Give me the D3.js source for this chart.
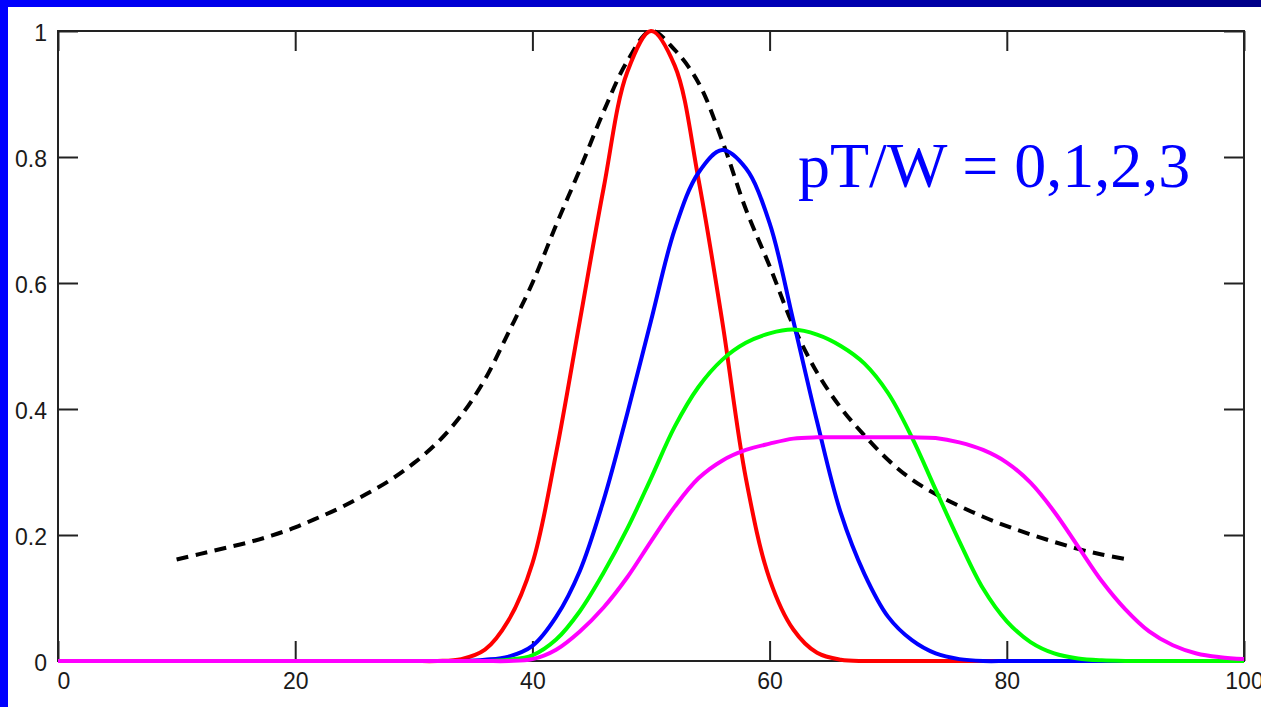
<!DOCTYPE html>
<html>
<head>
<meta charset="utf-8">
<script src="https://cdn.jsdelivr.net/npm/d3@7"></script>
<style>
  body { margin: 0; background: #fff; overflow: hidden; }
</style>
</head>
<body>
<script>
const width = 1261, height = 707

// sample positions (x) for the four pulse curves and the dashed envelope
const xGrid = d3.range(0, 101, 2)
const xDashed = d3.range(10, 91, 2)

const red = [0, 0, 0, 0, 0, 0, 0, 0, 0, 0, 0, 0, 0, 0, 0, 0, 0,
    0.003, 0.018, 0.065, 0.155, 0.33, 0.54, 0.75, 0.935, 1.0, 0.945, 0.765, 0.54, 0.29, 0.13, 0.05, 0.013, 0.002,
    0, 0, 0, 0, 0, 0, 0, 0, 0, 0, 0, 0, 0, 0, 0, 0, 0]
const blue = [0, 0, 0, 0, 0, 0, 0, 0, 0, 0, 0, 0, 0, 0, 0, 0, 0, 0,
    0.002, 0.007, 0.024, 0.07, 0.143, 0.255, 0.393, 0.54, 0.685, 0.775, 0.811, 0.782, 0.695, 0.54, 0.38, 0.235,
    0.138, 0.07, 0.033, 0.012, 0.003,
    0, 0, 0, 0, 0, 0, 0, 0, 0, 0, 0, 0]
const green = [0, 0, 0, 0, 0, 0, 0, 0, 0, 0, 0, 0, 0, 0, 0, 0, 0, 0, 0,
    0.002, 0.009, 0.034, 0.079, 0.14, 0.21, 0.29, 0.372, 0.435, 0.478, 0.505, 0.52, 0.526, 0.518, 0.5, 0.472,
    0.425, 0.355, 0.272, 0.19, 0.115, 0.063, 0.03, 0.012, 0.004, 0.001,
    0, 0, 0, 0, 0, 0]
const magenta = [0, 0, 0, 0, 0, 0, 0, 0, 0, 0, 0, 0, 0, 0, 0, 0, 0, 0, 0, 0,
    0.003, 0.018, 0.047, 0.085, 0.133, 0.19, 0.245, 0.29, 0.318, 0.335, 0.345, 0.353, 0.355, 0.355, 0.355,
    0.355, 0.355, 0.354, 0.347, 0.335, 0.315, 0.283, 0.237, 0.182, 0.127, 0.082, 0.047, 0.025, 0.012, 0.006, 0.003]
const dashed = [0.161, 0.170, 0.179, 0.188, 0.199, 0.212, 0.228, 0.245, 0.265, 0.287, 0.314, 0.347, 0.39,
    0.447, 0.522, 0.600, 0.692, 0.780, 0.872, 0.952, 1.0, 0.970, 0.918, 0.826, 0.717, 0.627, 0.532, 0.458,
    0.402, 0.358, 0.319, 0.288, 0.265, 0.246, 0.229, 0.214, 0.201, 0.189, 0.178, 0.169, 0.162]

const xTicks = [0, 20, 40, 60, 80, 100]
const yTicks = [0, 0.2, 0.4, 0.6, 0.8, 1]
const label = "pT/W = 0,1,2,3"

const series = [
    {values: red, color: "#ff0000"},
    {values: blue, color: "#0000ff"},
    {values: green, color: "#00ff00"},
    {values: magenta, color: "#ff00ff"}
]

const plot = {left: 58, right: 1244, top: 31, bottom: 661}

let svg = d3.select("body")
    .append("svg")
    .attr("width", width)
    .attr("height", height)

// blue slide frame
let grad = svg.append("defs").append("linearGradient")
    .attr("id", "topband")
grad.append("stop").attr("offset", "0%").attr("stop-color", "#0000ff")
grad.append("stop").attr("offset", "100%").attr("stop-color", "#000088")
svg.append("rect").attr("x", 0).attr("y", 0).attr("width", width).attr("height", 7)
    .attr("fill", "url(#topband)")
svg.append("rect").attr("x", 0).attr("y", 0).attr("width", 8).attr("height", height)
    .attr("fill", "#0000ff")

const x = d3.scaleLinear().domain([0, 100]).range([plot.left, plot.right])
const y = d3.scaleLinear().domain([0, 1]).range([plot.bottom, plot.top])

const styleAxis = (g) => {
    g.select(".domain").remove()
    g.selectAll(".tick line").attr("stroke", "#222").attr("stroke-width", 2)
    g.selectAll("text")
        .attr("fill", "#1a1a1a")
        .style("font-family", "'Liberation Sans', Arial, sans-serif")
        .style("font-size", "23px")
}

svg.append("g")
    .attr("transform", `translate(0,${plot.bottom})`)
    .call(d3.axisBottom(x).tickValues(xTicks).tickSize(-20).tickPadding(12).tickFormat((d) => d))
    .call(styleAxis)
    .call((g) => g.select(".tick text").attr("text-anchor", "start").attr("x", -1))

svg.append("g")
    .attr("transform", `translate(0,${plot.top})`)
    .call(d3.axisTop(x).tickValues(xTicks).tickSize(-20).tickFormat(""))
    .call(styleAxis)

svg.append("g")
    .attr("transform", `translate(${plot.left},0)`)
    .call(d3.axisLeft(y).tickValues(yTicks).tickSize(-20).tickPadding(11).tickFormat((d) => d))
    .call(styleAxis)
    .call((g) => g.selectAll(".tick text").attr("dy", "0.42em"))

svg.append("g")
    .attr("transform", `translate(${plot.right},0)`)
    .call(d3.axisRight(y).tickValues(yTicks).tickSize(-20).tickFormat(""))
    .call(styleAxis)

svg.append("rect")
    .attr("x", plot.left)
    .attr("y", plot.top)
    .attr("width", plot.right - plot.left)
    .attr("height", plot.bottom - plot.top)
    .attr("fill", "none")
    .attr("stroke", "#222")
    .attr("stroke-width", 2)

const line = (xs) => d3.line()
    .x((d, i) => x(xs[i]))
    .y((d) => y(d))
    .curve(d3.curveCatmullRom.alpha(0.5))

svg.append("path")
    .attr("d", line(xDashed)(dashed))
    .attr("fill", "none")
    .attr("stroke", "#000")
    .attr("stroke-width", 4)
    .attr("stroke-dasharray", "12,7.5")

svg.selectAll("path.curve")
    .data(series)
    .join("path")
    .attr("class", "curve")
    .attr("d", (s) => line(xGrid)(s.values))
    .attr("fill", "none")
    .attr("stroke", (s) => s.color)
    .attr("stroke-width", 4)
    .attr("stroke-linejoin", "round")

svg.append("text")
    .attr("x", 798)
    .attr("y", 187)
    .attr("fill", "#0000ff")
    .style("font-family", "'Liberation Serif', 'Times New Roman', serif")
    .style("font-size", "64px")
    .text(label)
</script>
</body>
</html>
